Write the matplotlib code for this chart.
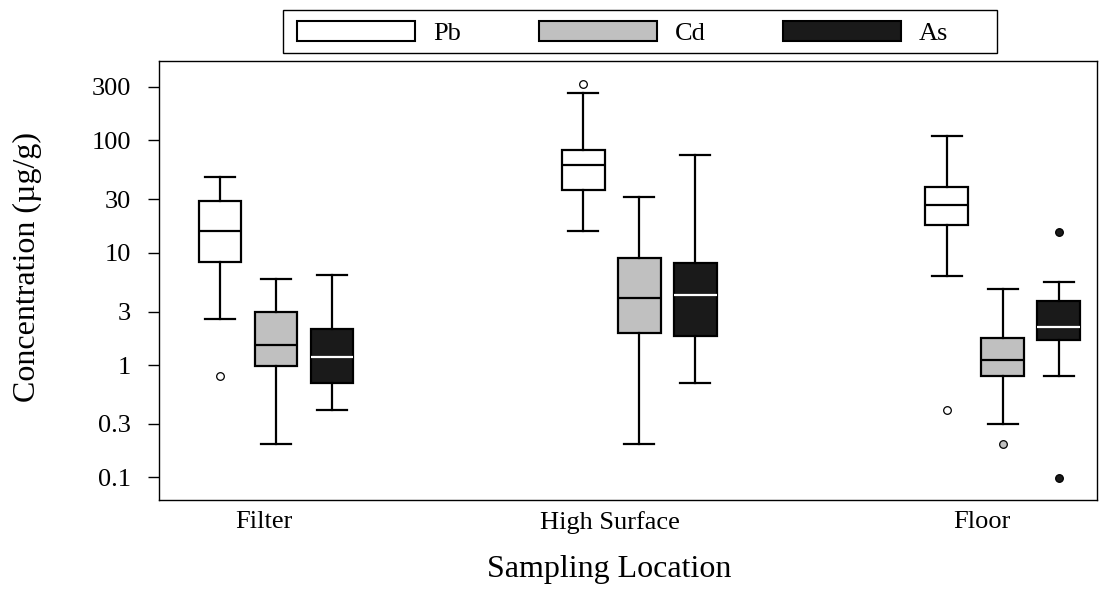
import matplotlib
matplotlib.use("Agg")
import matplotlib.pyplot as plt
from matplotlib.patches import Patch, Rectangle

plt.rcParams['font.family'] = ['Liberation Serif', 'DejaVu Serif']

groups = ["Filter", "High Surface", "Floor"]
metals = ["Pb", "Cd", "As"]
colors = ["white", "#c0c0c0", "#1a1a1a"]
median_colors = ["black", "black", "white"]

# Pb
pb_whislo = [2.6, 15.6, 6.2]
pb_q1 = [8.3, 36, 17.8]
pb_med = [15.6, 61, 26.4]
pb_q3 = [28.9, 83, 38.2]
pb_whishi = [47, 262, 109]
pb_fliers = [[0.80], [318], [0.40]]

# Cd
cd_whislo = [0.198, 0.198, 0.30]
cd_q1 = [0.99, 1.92, 0.80]
cd_med = [1.50, 3.98, 1.11]
cd_q3 = [2.98, 8.9, 1.73]
cd_whishi = [5.9, 31.3, 4.78]
cd_fliers = [[], [], [0.198]]

# As
as_whislo = [0.40, 0.695, 0.80]
as_q1 = [0.70, 1.81, 1.69]
as_med = [1.19, 4.18, 2.17]
as_q3 = [2.09, 8.15, 3.71]
as_whishi = [6.3, 74, 5.48]
as_fliers = [[], [], [0.099, 15.3]]

yticks = [0.1, 0.3, 1, 3, 10, 30, 100, 300]
ytick_labels = ["0.1", "0.3", "1", "3", "10", "30", "100", "300"]

series = [
    (pb_whislo, pb_q1, pb_med, pb_q3, pb_whishi, pb_fliers),
    (cd_whislo, cd_q1, cd_med, cd_q3, cd_whishi, cd_fliers),
    (as_whislo, as_q1, as_med, as_q3, as_whishi, as_fliers),
]

W, H = 1107, 590
fig = plt.figure(figsize=(W / 100, H / 100), dpi=100)
ax = fig.add_axes([159 / W, 90 / H, 938 / W, 439 / H])

offset = 0.154
box_w = 0.118
cap_w = 0.0825
lw = 1.6

for i, (lo, q1, med, q3, hi, fl) in enumerate(series):
    stats = []
    for g in range(len(groups)):
        stats.append(dict(whislo=lo[g], q1=q1[g], med=med[g], q3=q3[g],
                          whishi=hi[g], fliers=fl[g]))
    pos = [g + (i - 1) * offset for g in range(len(groups))]
    ax.bxp(stats, positions=pos, widths=box_w, capwidths=cap_w,
           patch_artist=True, showfliers=True,
           boxprops=dict(facecolor=colors[i], edgecolor="black", linewidth=lw),
           medianprops=dict(color=median_colors[i], linewidth=lw),
           whiskerprops=dict(color="black", linewidth=lw),
           capprops=dict(color="black", linewidth=lw),
           flierprops=dict(marker="o", markersize=5.5, markerfacecolor=colors[i],
                           markeredgecolor="black", markeredgewidth=0.9))

ax.set_yscale("log")
ax.set_ylim(0.063, 510)
ax.set_xlim(-0.322, 2.259)
ax.set_yticks(yticks)
ax.set_yticklabels(ytick_labels)
ax.minorticks_off()
ax.tick_params(axis="y", length=8, width=1, direction="out", pad=12, labelsize=19)

ax.set_xticks([-0.033, 0.919, 1.942])
ax.set_xticklabels(groups)
ax.tick_params(axis="x", length=0, pad=8, labelsize=19)

for sp in ax.spines.values():
    sp.set_linewidth(1.0)

ax.set_xlabel("Sampling Location", fontsize=23)
ax.xaxis.set_label_coords(0.48, -0.125)
ax.set_ylabel("Concentration (µg/g)", fontsize=23)
ax.yaxis.set_label_coords(-0.125, 0.531)

# legend: entries without frame, box drawn separately (wider on the right)
handles = [Patch(facecolor=c, edgecolor="black", linewidth=1.5) for c in colors]
fig.legend(handles, metals, loc="center left", bbox_to_anchor=(297 / W, 1 - 33 / H),
           ncol=3, fontsize=19, handlelength=4.47, handleheight=0.83,
           handletextpad=0.68, columnspacing=2.95, borderpad=0, borderaxespad=0,
           frameon=False)
fig.patches.append(Rectangle((283 / W, 1 - 53 / H), (997 - 283) / W, 43 / H,
                             transform=fig.transFigure, facecolor="none",
                             edgecolor="black", linewidth=1.0))

fig.savefig("out.png", dpi=100)
